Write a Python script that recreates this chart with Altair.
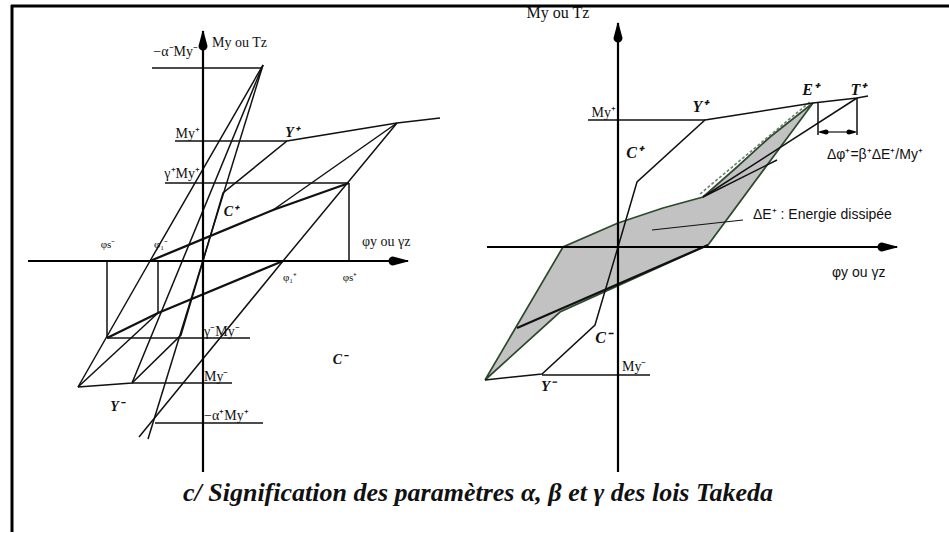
import altair as alt
import pandas as pd

W, H = 949, 533

# Origins of the two moment-curvature diagrams (chart units, y upwards)
LEFT_O = (203, 272)
RIGHT_O = (618, 286)

# ---------------- left diagram: alpha and gamma -----------------
# each polyline: list of (phi, M) vertices, plus stroke width
left_lines = [
    # skeleton curve
    ([(0, 0), (20, 68), (84, 120), (194, 138), (237, 143)], 1.5),
    ([(0, 0), (-22, -74), (-71, -122), (-125, -126)], 1.5),
    # level lines
    ([(-51, 193), (59, 193)], 1.5),
    ([(-28, 120), (84, 120)], 1.5),
    ([(-38, 78), (146, 78)], 1.5),
    ([(146, 78), (146, 0)], 1.5),
    ([(-96, -77), (47, -77)], 1.5),
    ([(-96, -77), (-96, 0)], 1.5),
    ([(-71, -122), (29, -122)], 1.5),
    ([(-48, -162), (60, -162)], 1.5),
    ([(-45, 0), (-45, -52)], 1.5),
    # reloading branches
    ([(-53, 0), (70, 51), (146, 78)], 2.3),
    ([(70, 51), (194, 138)], 1.5),
    ([(80, 0), (-45, -52), (-96, -77)], 2.3),
    ([(-45, -52), (-125, -126)], 1.5),
    # unloading branches towards the alpha points
    ([(194, 138), (80, 0), (-64, -176)], 1.5),
    ([(-125, -126), (-53, 0), (60, 196)], 1.5),
    ([(60, 196), (-55, -178)], 1.5),
    ([(-71, -122), (60, 196)], 1.5),
]

# ---------------- right diagram: beta -----------------
# dissipated energy loop
right_loop = [(-133, -133), (-55, 0), (0, 24), (45, 39), (85, 50), (119, 80),
              (152, 110), (195, 144), (90, 2), (-58, -65), (-133, -133)]
right_lines = [
    ([(-30, 127), (87, 127)], 1.5),
    ([(-133, -133), (-76, -127), (-23, -78), (0, 0), (19, 65), (87, 127),
      (195, 144), (239, 149), (250, 151)], 1.5),
    ([(-76, -128), (32, -128)], 1.5),
    ([(200, 144), (200, 112)], 1.5),
    ([(239, 149), (239, 112)], 1.5),
    ([(204, 115), (235, 115)], 1.2),
    ([(85, 50), (159, 87)], 1.5),
    ([(85, 50), (239, 149)], 1.5),
    ([(90, 2), (-101, -81)], 2.2),
    ([(34, 17), (125, 27)], 1.2),
]
right_dashed = [(82, 53), (193, 146)]


def table(lines, origin, prefix):
    rows = []
    ox, oy = origin
    for k, (pts, w) in enumerate(lines):
        for j, (p, m) in enumerate(pts):
            rows.append({"seg": f"{prefix}{k}", "order": j, "x": ox + p,
                         "y": oy + m, "w": w})
    return rows


rows = table(left_lines, LEFT_O, "L") + table(right_lines, RIGHT_O, "R")
lines_df = pd.DataFrame(rows)

loop_df = pd.DataFrame([{"order": j, "x": RIGHT_O[0] + p, "y": RIGHT_O[1] + m}
                        for j, (p, m) in enumerate(right_loop)])
dash_df = pd.DataFrame([{"order": j, "x": RIGHT_O[0] + p, "y": RIGHT_O[1] + m}
                        for j, (p, m) in enumerate(right_dashed)])

# coordinate axes of both diagrams: (name, start, tip)
axes_spec = [
    ("ly", (203, 61), (203, 502)),
    ("lx", (28, 272), (408, 272)),
    ("ry", (618, 61), (618, 510)),
    ("rx", (487, 286), (897, 286)),
]
axes_rows = []
for name, a, b in axes_spec:
    axes_rows += [{"seg": name, "order": 0, "x": a[0], "y": a[1]},
                  {"seg": name, "order": 1, "x": b[0], "y": b[1]}]
axes_df = pd.DataFrame(axes_rows)

frame_df = pd.DataFrame([
    {"seg": "ft", "order": 0, "x": 11, "y": 527},
    {"seg": "ft", "order": 1, "x": 949, "y": 527},
    {"seg": "fl", "order": 0, "x": 12, "y": 528},
    {"seg": "fl", "order": 1, "x": 12, "y": 1},
])


def head(name, tip, direction, length, width):
    """Tapered trail from the base of an arrow head to its tip."""
    dx, dy = direction
    tx, ty = tip
    base = (tx - dx * length, ty - dy * length)
    return [{"seg": name, "order": 0, "x": base[0], "y": base[1], "s": width},
            {"seg": name, "order": 1, "x": tx, "y": ty, "s": 0}]


heads_rows = []
for name, a, b in axes_spec:
    d = (0, 1) if a[0] == b[0] else (1, 0)
    heads_rows += head("h" + name, b, d, 15, 9)
heads_rows += head("hdl", (819, 401), (-1, 0), 7, 5)
heads_rows += head("hdr", (856, 401), (1, 0), 7, 5)
heads_df = pd.DataFrame(heads_rows)

X = alt.X("x:Q", scale=alt.Scale(domain=[0, W]), axis=None)
Y = alt.Y("y:Q", scale=alt.Scale(domain=[0, H]), axis=None)

loop = alt.Chart(loop_df).mark_line(fill="#c2c2c2", stroke="#2c4a2c",
                                    strokeWidth=1.7).encode(
    x=X, y=Y, order="order:Q")

lines = alt.Chart(lines_df).mark_line(color="#111111").encode(
    x=X, y=Y, detail="seg:N", order="order:Q",
    strokeWidth=alt.StrokeWidth("w:Q", scale=None))

dashed = alt.Chart(dash_df).mark_line(color="#6f7f6f", strokeDash=[3, 2],
                                      strokeWidth=1.6).encode(
    x=X, y=Y, order="order:Q")

axes = alt.Chart(axes_df).mark_line(color="#000000", strokeWidth=2.2).encode(
    x=X, y=Y, detail="seg:N", order="order:Q")
frame = alt.Chart(frame_df).mark_line(color="#000000", strokeWidth=3).encode(
    x=X, y=Y, detail="seg:N", order="order:Q")
heads = alt.Chart(heads_df).mark_trail(color="#000000", opacity=1).encode(
    x=X, y=Y, detail="seg:N", order="order:Q",
    size=alt.Size("s:Q", scale=None))

# ---------------- labels -----------------
serif_right = [
    (198, 481, "−α⁻My⁻"), (200, 399, "My⁺"), (200, 359, "γ⁺My⁺"),
    (616, 420, "My⁺"),
]
serif_left = [
    (212, 490, "My ou Tz"), (362, 291, "φy ou γz"), (204, 201, "γ⁻My⁻"),
    (204, 156, "My⁻"), (204, 117, "−α⁺My⁺"), (622, 166, "My⁻"),
]
serif_small = [
    (108, 288, "φs⁻"), (161, 288, "φ₁⁻"), (290, 255, "φ₁⁺"), (350, 255, "φs⁺"),
]
italic_center = [
    (292, 400, "Y⁺", 14), (231, 321, "C⁺", 14), (340, 173, "C⁻", 14),
    (117, 126, "Y⁻", 14), (700, 426, "Y⁺", 16), (810, 443, "E⁺", 16),
    (858, 443, "T⁺", 16), (634, 380, "C⁺", 16), (603, 195, "C⁻", 16),
    (548, 147, "Y⁻", 15),
]
sans_left = [
    (827, 378, "Δφ⁺=β⁺ΔE⁺/My⁺"), (753, 318, "ΔE⁺ : Energie dissipée"),
    (832, 260, "φy ou γz"),
]


def txt(items, **kw):
    df = pd.DataFrame(items, columns=["x", "y", "t"])
    return alt.Chart(df).mark_text(baseline="middle", color="#111111", **kw).encode(
        x=X, y=Y, text="t:N")


t1 = txt(serif_right, align="right", font="Liberation Serif", fontSize=14)
t2 = txt(serif_left, align="left", font="Liberation Serif", fontSize=14)
t3 = txt(serif_small, align="center", font="Liberation Serif", fontSize=11)
t3b = txt([(558, 520, "My ou Tz")], align="center", font="Liberation Serif",
          fontSize=16)
t4 = alt.Chart(pd.DataFrame(italic_center, columns=["x", "y", "t", "s"])).mark_text(
    align="center", baseline="middle", font="Liberation Serif", fontStyle="italic",
    fontWeight="bold", color="#111111").encode(
    x=X, y=Y, text="t:N", size=alt.Size("s:Q", scale=None))
t5 = txt(sans_left, align="left", font="Liberation Sans", fontSize=14)

caption = alt.Chart(pd.DataFrame([{"x": 478, "y": 40,
                                   "t": "c/ Signification des paramètres α, β et γ des lois Takeda"}])
                    ).mark_text(align="center", baseline="middle",
                                font="Liberation Serif", fontSize=26,
                                fontStyle="italic", fontWeight="bold",
                                color="#111111").encode(x=X, y=Y, text="t:N")

chart = alt.layer(loop, dashed, lines, axes, frame, heads,
                  t1, t2, t3, t3b, t4, t5, caption).properties(
    width=W, height=H, padding=0, autosize="none", background="white"
).configure_view(strokeWidth=0)

chart.save("out.html", embed_options={"renderer": "svg", "actions": False})
